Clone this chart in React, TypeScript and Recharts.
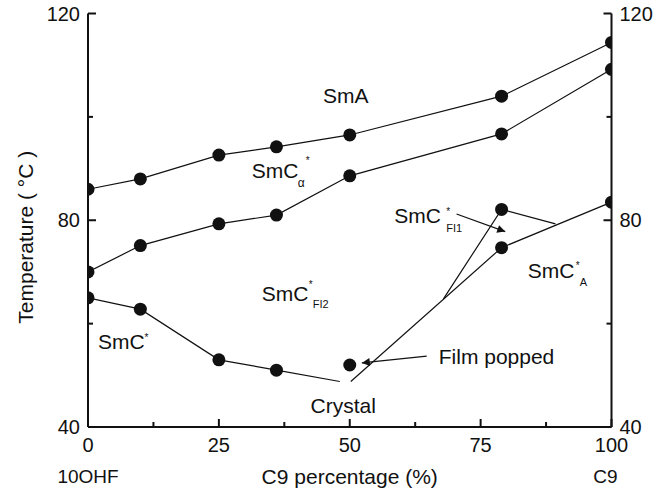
import React from "react";
import { ComposedChart, Line, XAxis, YAxis, ReferenceDot, Label } from "recharts";

const FONT = '"Liberation Sans", Arial, Helvetica, sans-serif';
const INK = "#111111";

// C9 content (%) of the measured mixtures
const pct = [0, 10, 25, 36, 50, 79, 100];
// SmA -> SmC*alpha transition
const smaTemp = [86.0, 88.0, 92.6, 94.2, 96.5, 104.0, 114.4];
// SmC*alpha -> SmC*FI2 / SmC*FI1 transition
const alphaTemp = [70.0, 75.1, 79.3, 81.0, 88.6, 96.7, 109.2];
// SmC* -> crystal, last point is where the drawn boundary stops
const crystalPct = [0, 10, 25, 36, 48.1];
const crystalTemp = [65.0, 62.8, 53.0, 51.0, 48.8];
// SmC*A boundary, first point is the open end near the crystal line
const antiPct = [50.2, 79, 100];
const antiTemp = [48.8, 74.7, 83.5];
// SmC*FI1 pocket
const fi1Pct = [67.9, 79, 89.3];
const fi1Temp = [64.8, 82.1, 79.3];
// film popped measurement
const poppedPct = [50];
const poppedTemp = [52.0];

// arrows, [tail, head]
const fi1ArrowPct = [70.4, 79.7];
const fi1ArrowTemp = [81.2, 77.8];
const poppedArrowPct = [64.7, 52.3];
const poppedArrowTemp = [53.7, 52.4];

const xDomain = [0, 100];
const yDomain = [40, 120];
const xTicks = [0, 12.5, 25, 37.5, 50, 62.5, 75, 87.5, 100];
const xLabelled = [0, 25, 50, 75, 100];
const yTicks = [40, 60, 80, 100, 120];
const yLabelled = [40, 80, 120];
const endPct = [0, 100];
const endNames = ["10OHF", "C9"];

const zip = (xs: number[], ys: number[]) => xs.map((x, i) => ({ x, y: ys[i] }));

const R = 6.5;

// filled marker, cut in half on the frame like the original
const dotsAt = (idx: number[]) => (p: any) => {
  const key = `d${p.index}`;
  if (!idx.includes(p.index)) return <g key={key} />;
  const { cx, cy } = p;
  const v = p.payload.x;
  if (v <= xDomain[0])
    return <path key={key} d={`M${cx},${cy - R} A${R},${R} 0 0 1 ${cx},${cy + R} Z`} fill={INK} />;
  if (v >= xDomain[1])
    return <path key={key} d={`M${cx},${cy - R} A${R},${R} 0 0 0 ${cx},${cy + R} Z`} fill={INK} />;
  return <circle key={key} cx={cx} cy={cy} r={R} fill={INK} />;
};

const txt = { fontFamily: FONT, fill: INK };

const BottomTick = (p: any) => {
  const { x, y, payload } = p;
  const v = payload.value;
  const major = xLabelled.includes(v);
  const e = endPct.indexOf(v);
  return (
    <g>
      <line x1={x} x2={x} y1={y} y2={y - (major ? 8 : 5)} stroke={INK} strokeWidth={2} />
      {major && (
        <text x={x} y={y + 25} textAnchor="middle" fontSize={20} {...txt}>
          {v}
        </text>
      )}
      {e >= 0 && (
        <text x={x - (e === 1 ? 6 : 0)} y={y + 56} textAnchor="middle" fontSize={19} {...txt}>
          {endNames[e]}
        </text>
      )}
    </g>
  );
};

const TopTick = (p: any) => {
  const { x, y, payload } = p;
  const major = xLabelled.includes(payload.value);
  return <line x1={x} x2={x} y1={y} y2={y + (major ? 8 : 5)} stroke={INK} strokeWidth={2} />;
};

const LeftTick = (p: any) => {
  const { x, y, payload } = p;
  const v = payload.value;
  const major = yLabelled.includes(v);
  return (
    <g>
      <line x1={x} x2={x + (major ? 8 : 5)} y1={y} y2={y} stroke={INK} strokeWidth={2} />
      {major && (
        <text x={x - 8} y={y + 7} textAnchor="end" fontSize={20} {...txt}>
          {v}
        </text>
      )}
    </g>
  );
};

const RightTick = (p: any) => {
  const { x, y, payload } = p;
  const v = payload.value;
  const major = yLabelled.includes(v);
  return (
    <g>
      <line x1={x} x2={x - (major ? 8 : 5)} y1={y} y2={y} stroke={INK} strokeWidth={2} />
      {major && (
        <text x={x + 8} y={y + 7} textAnchor="start" fontSize={20} {...txt}>
          {v}
        </text>
      )}
    </g>
  );
};

// phase name, with optional "*" superscript and a subscript
const phase =
  (main: string, sub?: string, star?: [number, number], subAt?: [number, number], subSize = 11) =>
  (p: any) => {
    const { cx, cy } = p;
    return (
      <g>
        <text x={cx} y={cy} fontSize={21} {...txt}>
          {main}
        </text>
        {star && (
          <text x={cx + star[0]} y={cy + star[1]} fontSize={10} {...txt}>
            *
          </text>
        )}
        {sub && subAt && (
          <text x={cx + subAt[0]} y={cy + subAt[1]} fontSize={subSize} {...txt}>
            {sub}
          </text>
        )}
      </g>
    );
  };

const YTitle = (p: any) => {
  const vb = p.viewBox;
  const x = vb.x + 33;
  const y = vb.y + vb.height / 2 + 17;
  return (
    <text x={0} y={0} transform={`translate(${x},${y}) rotate(-90)`} textAnchor="middle" fontSize={21} {...txt}>
      Temperature ( °C )
    </text>
  );
};

const line = { stroke: INK, strokeWidth: 1.2, isAnimationActive: false, dataKey: "y" };

export default function App() {
  return (
    <div style={{ position: "absolute", left: 0, top: 0, background: "#fff" }}>
      <ComposedChart width={663} height={492} margin={{ top: 13.5, right: 0, bottom: 0, left: 0 }}>
        <defs>
          <marker
            id="head"
            viewBox="0 0 10 10"
            refX={10}
            refY={5}
            markerWidth={11}
            markerHeight={8}
            markerUnits="userSpaceOnUse"
            orient="auto"
          >
            <path d="M0,0 L10,5 L0,10 Z" fill={INK} />
          </marker>
        </defs>
        <XAxis
          type="number"
          dataKey="x"
          domain={xDomain}
          ticks={xTicks}
          interval={0}
          allowDataOverflow
          height={65}
          tickSize={0}
          tickMargin={0}
          tickLine={false}
          tick={BottomTick}
          axisLine={{ stroke: INK, strokeWidth: 2 }}
        >
          <Label
            value="C9 percentage (%)"
            position="insideBottom"
            offset={8}
            style={{ fontFamily: FONT, fontSize: 21, fill: INK }}
          />
        </XAxis>
        <XAxis
          xAxisId="top"
          orientation="top"
          type="number"
          dataKey="x"
          domain={xDomain}
          ticks={xTicks}
          interval={0}
          allowDataOverflow
          height={0}
          tickSize={0}
          tickMargin={0}
          tickLine={false}
          tick={TopTick}
          axisLine={{ stroke: INK, strokeWidth: 2 }}
        />
        <YAxis
          type="number"
          domain={yDomain}
          ticks={yTicks}
          interval={0}
          allowDataOverflow
          width={88}
          tickSize={0}
          tickMargin={0}
          tickLine={false}
          tick={LeftTick}
          axisLine={{ stroke: INK, strokeWidth: 2 }}
        >
          <Label content={YTitle} />
        </YAxis>
        <YAxis
          yAxisId="r"
          orientation="right"
          type="number"
          domain={yDomain}
          ticks={yTicks}
          interval={0}
          allowDataOverflow
          width={51.5}
          tickSize={0}
          tickMargin={0}
          tickLine={false}
          tick={RightTick}
          axisLine={{ stroke: INK, strokeWidth: 2 }}
        />

        <Line {...line} name="SmA" data={zip(pct, smaTemp)} dot={dotsAt([0, 1, 2, 3, 4, 5, 6])} />
        <Line {...line} name="SmCa" data={zip(pct, alphaTemp)} dot={dotsAt([0, 1, 2, 3, 4, 5, 6])} />
        <Line {...line} name="Cr" data={zip(crystalPct, crystalTemp)} dot={dotsAt([0, 1, 2, 3])} />
        <Line {...line} name="SmCA" data={zip(antiPct, antiTemp)} dot={dotsAt([1, 2])} />
        <Line {...line} name="FI1" data={zip(fi1Pct, fi1Temp)} dot={dotsAt([1])} />
        <Line {...line} name="popped" stroke="none" data={zip(poppedPct, poppedTemp)} dot={dotsAt([0])} />
        <Line
          {...line}
          name="arrowFI1"
          data={zip(fi1ArrowPct, fi1ArrowTemp)}
          dot={false}
          markerEnd="url(#head)"
        />
        <Line
          {...line}
          name="arrowPopped"
          data={zip(poppedArrowPct, poppedArrowTemp)}
          dot={false}
          markerEnd="url(#head)"
        />

        <ReferenceDot x={44.9} y={102.7} r={0} shape={phase("SmA")} />
        <ReferenceDot x={31.3} y={88.2} r={0} shape={phase("SmC", "α", [54, -14], [46, 9], 12)} />
        <ReferenceDot x={58.5} y={79.5} r={0} shape={phase("SmC", "FI1", [52, -8], [52, 9])} />
        <ReferenceDot x={33.2} y={64.4} r={0} shape={phase("SmC", "FI2", [47, -13], [51, 7])} />
        <ReferenceDot x={84.0} y={68.8} r={0} shape={phase("SmC", "A", [48, -9], [52, 8])} />
        <ReferenceDot x={1.9} y={55.1} r={0} shape={phase("SmC", undefined, [46.5, -8])} />
        <ReferenceDot x={42.5} y={42.7} r={0} shape={phase("Crystal")} />
        <ReferenceDot x={67.0} y={52.2} r={0} shape={phase("Film popped")} />
      </ComposedChart>
    </div>
  );
}
